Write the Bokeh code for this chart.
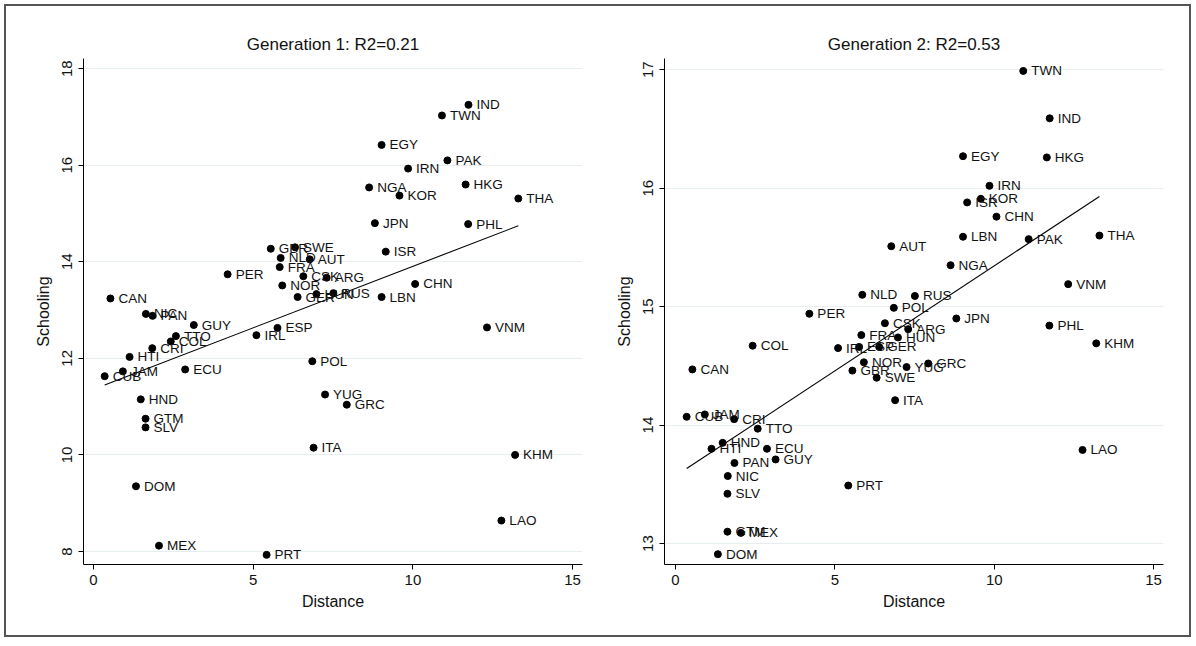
from bokeh.plotting import figure
from bokeh.layouts import row
from bokeh.models import ColumnDataSource, FixedTicker, Range1d
from bokeh.embed import file_html
from bokeh.resources import INLINE
from bokeh.core.properties import value
import numpy as np

countries = ["IND", "TWN", "EGY", "PAK", "IRN", "HKG", "NGA", "KOR", "THA", "JPN",
             "PHL", "ISR", "GBR", "SWE", "NLD", "AUT", "FRA", "PER", "CAN", "NIC",
             "PAN", "GUY", "TTO", "COL", "CRI", "HTI", "JAM", "CUB", "ECU", "HND",
             "GTM", "SLV", "IRL", "ESP", "NOR", "GER", "CSK", "POL", "HUN", "RUS",
             "ARG", "CHN", "LBN", "VNM", "YUG", "GRC", "ITA", "KHM", "LAO", "DOM",
             "MEX", "PRT"]
distance = [11.74, 10.91, 9.02, 11.08, 9.85, 11.65, 8.63, 9.58, 13.30, 8.81,
            11.73, 9.15, 5.55, 6.31, 5.86, 6.77, 5.83, 4.20, 0.53, 1.64,
            1.85, 3.14, 2.58, 2.42, 1.84, 1.13, 0.92, 0.35, 2.87, 1.48,
            1.63, 1.63, 5.10, 5.76, 5.91, 6.39, 6.57, 6.85, 6.98, 7.51,
            7.30, 10.07, 9.02, 12.32, 7.25, 7.93, 6.89, 13.20, 12.77, 1.33,
            2.05, 5.42]
school_gen1 = [17.25, 17.03, 16.42, 16.10, 15.93, 15.60, 15.54, 15.37, 15.31, 14.80,
               14.78, 14.21, 14.27, 14.30, 14.08, 14.05, 13.89, 13.74, 13.24, 12.92,
               12.88, 12.69, 12.46, 12.35, 12.21, 12.03, 11.73, 11.63, 11.77, 11.15,
               10.75, 10.57, 12.48, 12.63, 13.51, 13.27, 13.70, 11.94, 13.33, 13.35,
               13.67, 13.54, 13.27, 12.64, 11.25, 11.04, 10.15, 10.00, 8.64, 9.35,
               8.12, 7.93]
school_gen2 = [16.59, 16.99, 16.27, 15.57, 16.02, 16.26, 15.35, 15.91, 15.60, 14.90,
               14.84, 15.88, 14.46, 14.40, 15.10, 15.51, 14.76, 14.94, 14.47, 13.57,
               13.68, 13.71, 13.97, 14.67, 14.05, 13.80, 14.09, 14.07, 13.80, 13.85,
               13.10, 13.42, 14.65, 14.66, 14.53, 14.66, 14.86, 14.99, 14.74, 15.09,
               14.81, 15.76, 15.59, 15.19, 14.49, 14.52, 14.21, 14.69, 13.79, 12.91,
               13.09, 13.49]

titles = ["Generation 1: R2=0.21", "Generation 2: R2=0.53"]
x_label = "Distance"
y_label = "Schooling"
x_ticks = [0, 5, 10, 15]
y_ticks_gen1 = [8, 10, 12, 14, 16, 18]
y_ticks_gen2 = [13, 14, 15, 16, 17]

FONT = "Liberation Sans"


def make_panel(school, title, yticks, xr, yr, mbl, mbr):
    p = figure(frame_width=499, frame_height=506,
               min_border_left=mbl, min_border_right=mbr,
               min_border_top=58, min_border_bottom=77,
               x_range=Range1d(*xr), y_range=Range1d(*yr),
               output_backend="svg", toolbar_location=None, title=title)
    p.title.align = "center"
    p.title.text_font = FONT
    p.title.text_font_size = "17px"
    p.title.text_font_style = "normal"
    p.title.text_color = "#111111"
    p.title.standoff = 9
    p.outline_line_color = None
    p.background_fill_color = None
    p.border_fill_color = None

    p.xgrid.visible = False
    p.ygrid.grid_line_color = "#e6eeef"
    p.ygrid.grid_line_width = 1

    p.xaxis.ticker = FixedTicker(ticks=x_ticks)
    p.yaxis.ticker = FixedTicker(ticks=yticks)
    for ax in (p.xaxis, p.yaxis):
        ax.minor_tick_line_color = None
        ax.major_tick_in = 0
        ax.major_tick_out = 5
        ax.axis_line_color = "black"
        ax.major_tick_line_color = "black"
        ax.major_label_text_font = FONT
        ax.major_label_text_font_size = "15px"
        ax.major_label_text_color = "#111111"
        ax.axis_label_text_font = FONT
        ax.axis_label_text_font_size = "16px"
        ax.axis_label_text_font_style = "normal"
        ax.axis_label_text_color = "#111111"
    p.yaxis.major_label_orientation = "vertical"
    p.yaxis.major_label_standoff = 6
    p.yaxis.axis_label_standoff = 8
    p.xaxis.axis_label = x_label
    p.yaxis.axis_label = y_label

    src = ColumnDataSource(dict(x=distance, y=school, name=countries))
    coef = np.polyfit(distance, school, 1)
    xs = [min(distance), max(distance)]
    p.line(xs, list(np.polyval(coef, xs)), line_color="black", line_width=1.1)
    p.scatter("x", "y", source=src, size=7, color="black")
    p.text(x="x", y="y", text="name", source=src, x_offset=8,
           text_baseline="middle", text_font=value(FONT),
           text_font_size="13.5px", text_color="#111111")
    return p


p1 = make_panel(school_gen1, titles[0], y_ticks_gen1, (-0.313, 15.31), (7.73, 18.21), 83, 16)
p2 = make_panel(school_gen2, titles[1], y_ticks_gen2, (-0.345, 15.31), (12.823, 17.095), 66, 32)

layout = row(p1, p2, styles={"outline": "2px solid #555555", "outline-offset": "-6px",
                             "background-color": "white"})

open("out.html", "w").write(file_html(layout, INLINE))
